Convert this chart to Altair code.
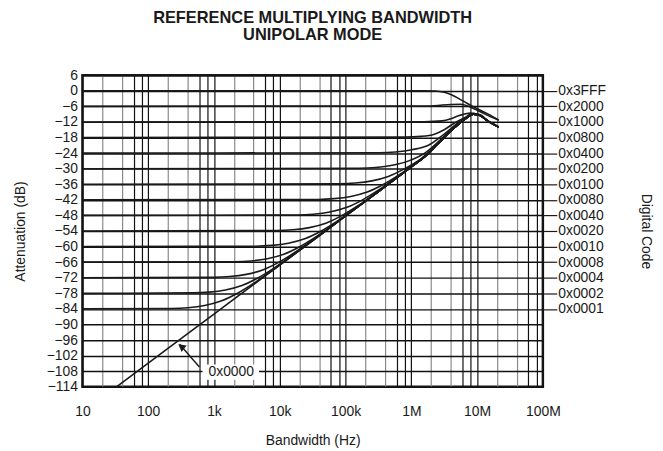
import altair as alt
import pandas as pd

FONT = "Liberation Sans"
INK = "#1a1a1a"

# ---- curve data: log10(frequency in Hz) and attenuation (dB) ----
codes = ["0x3FFF", "0x2000", "0x1000", "0x0800", "0x0400", "0x0200", "0x0100",
         "0x0080", "0x0040", "0x0020", "0x0010", "0x0008", "0x0004", "0x0002",
         "0x0001", "0x0000"]

# shared high-frequency tail that the lower codes merge into
tail_lf = [4.0, 4.5, 5.0, 5.5, 6.0, 6.2, 6.4, 6.6, 6.8, 6.94, 7.05, 7.15, 7.33]
tail_db = [-67.1, -57.7, -48.2, -38.8, -29.3, -25.5, -20.5, -15.5, -11.2, -9.0, -9.5, -11.4, -14.0]

lf_3FFF = [1, 6.2, 6.37, 6.5, 6.6, 6.77, 6.97, 7.17, 7.33]
db_3FFF = [0, 0, -0.1, -0.6, -1.4, -3.7, -6.5, -9.0, -11.3]
lf_2000 = [1, 6.3, 6.47, 6.6, 6.75, 6.92, 7.12, 7.33]
db_2000 = [-6, -5.85, -5.5, -5.3, -5.2, -6.5, -9.0, -11.4]
lf_1000 = [1, 6.2, 6.47, 6.6, 6.72, 6.9, 7.02, 7.17, 7.33]
db_1000 = [-12, -11.9, -11.6, -10.8, -9.6, -8.6, -9.2, -11.6, -13.9]
lf_0800 = [1, 5.9, 6.15, 6.35, 6.5, 6.65, 6.8, 6.94, 7.05, 7.15, 7.33]
db_0800 = [-18, -17.85, -17.55, -16.7, -15.0, -12.5, -10.5, -8.8, -9.2, -11.3, -14.0]
lf_0400 = [1, 5.51, 5.76, 6.01, 6.26, 6.51, 6.76]
db_0400 = [-24, -23.85, -23.55, -22.7, -21.0, -16.5, -11.6]
lf_0200 = [1, 5.21, 5.46, 5.71, 5.96, 6.21, 6.46, 6.71]
db_0200 = [-30, -29.85, -29.55, -28.7, -27.0, -23.9, -18.5, -12.9]
lf_0100 = [1, 4.9, 5.15, 5.4, 5.65, 5.9, 6.15, 6.4]
db_0100 = [-36, -35.85, -35.55, -34.7, -33.0, -30.0, -26.1, -20.4]
lf_0080 = [1, 4.58, 4.83, 5.08, 5.33, 5.58, 5.83, 6.08]
db_0080 = [-42, -41.85, -41.55, -40.7, -39.0, -36.0, -32.1, -27.7]
lf_0040 = [1, 4.26, 4.51, 4.76, 5.01, 5.26, 5.51, 5.76]
db_0040 = [-48, -47.85, -47.55, -46.7, -45.0, -42.0, -38.1, -33.7]
lf_0020 = [1, 3.95, 4.2, 4.45, 4.7, 4.95, 5.2, 5.45]
db_0020 = [-54, -53.85, -53.55, -52.7, -51.0, -48.0, -44.1, -39.7]
lf_0010 = [1, 3.63, 3.88, 4.13, 4.38, 4.63, 4.88, 5.13]
db_0010 = [-60, -59.85, -59.55, -58.7, -57.0, -54.0, -50.1, -45.7]
lf_0008 = [1, 3.31, 3.56, 3.81, 4.06, 4.31, 4.56, 4.81]
db_0008 = [-66, -65.85, -65.55, -64.7, -63.0, -60.0, -56.1, -51.7]
lf_0004 = [1, 2.99, 3.24, 3.49, 3.74, 3.99, 4.24, 4.49]
db_0004 = [-72, -71.85, -71.55, -70.7, -69.0, -66.0, -62.1, -57.7]
lf_0002 = [1, 2.675, 2.925, 3.175, 3.425, 3.675, 3.925, 4.175]
db_0002 = [-78, -77.85, -77.55, -76.7, -75.0, -72.0, -68.1, -63.7]
lf_0001 = [1, 2.357, 2.607, 2.857, 3.107, 3.357, 3.607, 3.857]
db_0001 = [-84, -83.85, -83.55, -82.7, -81.0, -78.0, -74.1, -69.7]
lf_0000 = [1.483, 2.0, 3.0]
db_0000 = [-114.7, -104.9, -86.0]

curve_points = {
    "0x3FFF": (lf_3FFF, db_3FFF, False), "0x2000": (lf_2000, db_2000, False),
    "0x1000": (lf_1000, db_1000, False), "0x0800": (lf_0800, db_0800, False),
    "0x0400": (lf_0400, db_0400, True), "0x0200": (lf_0200, db_0200, True),
    "0x0100": (lf_0100, db_0100, True), "0x0080": (lf_0080, db_0080, True),
    "0x0040": (lf_0040, db_0040, True), "0x0020": (lf_0020, db_0020, True),
    "0x0010": (lf_0010, db_0010, True), "0x0008": (lf_0008, db_0008, True),
    "0x0004": (lf_0004, db_0004, True), "0x0002": (lf_0002, db_0002, True),
    "0x0001": (lf_0001, db_0001, True), "0x0000": (lf_0000, db_0000, True),
}

rows = []
for code in codes:
    lfs, dbs, use_tail = curve_points[code]
    pts = list(zip(lfs, dbs))
    if use_tail:
        pts += [(a, b) for a, b in zip(tail_lf, tail_db) if a > lfs[-1] + 0.02]
    for i, (a, b) in enumerate(pts):
        rows.append({"code": code, "order": i, "freq": 10 ** a, "db": b})
df = pd.DataFrame(rows)

# ---- "0x0000" callout (positions in data units) ----
note_text = ["0x0000"]
note_freq = [1830]
note_db = [-108.3]
box_f1, box_f2 = [668], [4840]
box_db1, box_db2 = [-105.4], [-111.3]
arrow_freq = [600, 300]
arrow_db = [-106.4, -97.6]

# ---- axes ----
decade_vals = [10, 100, 1e3, 1e4, 1e5, 1e6, 1e7, 1e8]
decade_labels = ["10", "100", "1k", "10k", "100k", "1M", "10M", "100M"]
minor_mult = [2, 4, 6, 8]
x_grid = sorted(decade_vals + [m * d for d in decade_vals[:-1] for m in minor_mult])

y_left_vals = list(range(-114, 7, 6))
right_vals = [0, -6, -12, -18, -24, -30, -36, -42, -48, -54, -60, -66, -72, -78, -84]
right_labels = ["0x3FFF", "0x2000", "0x1000", "0x0800", "0x0400", "0x0200", "0x0100",
                "0x0080", "0x0040", "0x0020", "0x0010", "0x0008", "0x0004", "0x0002", "0x0001"]

def lookup_expr(vals, labels, default="''"):
    expr = default
    for v, l in zip(reversed(vals), reversed(labels)):
        expr = f"(abs(datum.value - {v}) < {abs(v) * 1e-6 + 1e-9} ? '{l}' : {expr})"
    return expr

x_label_expr = lookup_expr(decade_vals, decade_labels)
right_label_expr = lookup_expr(right_vals, right_labels)

x_scale = alt.Scale(type="log", domain=[10, 1e8])
y_scale = alt.Scale(domain=[-114, 6], nice=False, zero=False)

grid_color = {
    "condition": {
        "test": "indexof([2,4], round(datum.value / pow(10, floor(log(datum.value) / LN10 + 1e-9)))) >= 0",
        "value": "#8a8a8a"},
    "value": "#111111"}

x_axis = alt.Axis(values=x_grid, labelExpr=x_label_expr, tickSize=0, grid=True,
                  gridColor=grid_color, gridWidth=1.2, gridOpacity=1, domain=False,
                  title="Bandwidth (Hz)", labelPadding=18, titlePadding=15,
                  labelFontSize=14, titleFontSize=14, labelFont=FONT, titleFont=FONT,
                  labelColor=INK, titleColor=INK, titleFontWeight="normal",
                  labelOverlap=False, labelFlush=False)
y_axis = alt.Axis(values=y_left_vals,
                  labelExpr="datum.value < 0 ? '\u2212' + abs(datum.value) : '' + datum.value",
                  tickSize=0, grid=True, gridColor="#111111", gridWidth=1.5, gridOpacity=1,
                  domain=False, title="Attenuation (dB)", labelPadding=5, titlePadding=19,
                  labelFontSize=14, titleFontSize=14, labelFont=FONT, titleFont=FONT,
                  labelColor=INK, titleColor=INK, titleFontWeight="normal",
                  labelOverlap=False, labelFlush=False)
y_right_axis = alt.Axis(orient="right", values=right_vals, labelExpr=right_label_expr,
                        tickSize=14, tickColor=INK, tickWidth=1.2, grid=False, domain=False,
                        title="Digital Code", labelPadding=1, titlePadding=33,
                        labelFontSize=14, titleFontSize=14, labelFont=FONT, titleFont=FONT,
                        labelColor=INK, titleColor=INK, titleFontWeight="normal",
                        labelOverlap=False, labelFlush=False)

note_df = pd.DataFrame({"freq": note_freq, "db": note_db, "t": note_text})
box_df = pd.DataFrame({"freq": box_f1, "freq2": box_f2, "db": box_db1, "db2": box_db2})
arrow_df = pd.DataFrame({"freq": arrow_freq, "db": arrow_db, "order": [0, 1]})
head_df = pd.DataFrame({"freq": [arrow_freq[1] * 1.06], "db": [arrow_db[1] - 0.9]})
right_df = pd.DataFrame({"freq": [1e3] * len(right_vals), "db": right_vals})

X = alt.X("freq:Q", scale=x_scale, axis=x_axis)
Y = alt.Y("db:Q", scale=y_scale, axis=y_axis)

lines = alt.Chart(df).mark_line(color=INK, strokeWidth=1.6, interpolate="monotone", clip=True).encode(
    x=X, y=Y, detail="code:N", order="order:Q")
box = alt.Chart(box_df).mark_rect(color="white").encode(x=X, x2="freq2:Q", y=Y, y2="db2:Q")
note = alt.Chart(note_df).mark_text(
    font=FONT, fontSize=14, color=INK, align="center", baseline="middle").encode(x=X, y=Y, text="t:N")
arrow_line = alt.Chart(arrow_df).mark_line(color=INK, strokeWidth=1.4).encode(x=X, y=Y, order="order:Q")
arrow_head = alt.Chart(head_df).mark_point(
    shape="triangle-up", filled=True, color=INK, size=70, angle=307, opacity=1).encode(x=X, y=Y)

inner = alt.layer(lines, box, note, arrow_line, arrow_head)

right_axis_layer = alt.Chart(right_df).mark_point(opacity=0).encode(
    x=X, y=alt.Y("db:Q", scale=y_scale, axis=y_right_axis))

chart = alt.layer(inner, right_axis_layer).resolve_axis(
    y="independent"
).resolve_scale(y="shared").properties(
    width=464, height=314,
    padding={"left": 5, "top": 0, "right": 2, "bottom": 2},
    view=alt.ViewBackground(stroke=INK, strokeWidth=2.5),
    title=alt.TitleParams(["REFERENCE MULTIPLYING BANDWIDTH", "UNIPOLAR MODE"],
                          font=FONT, fontSize=16.5, fontWeight="bold", color=INK,
                          anchor="middle", lineHeight=17.5, offset=22.5, dy=-2),
).configure_view(stroke=INK, strokeWidth=2.5).configure(background="white")

chart.save("out.html", embed_options={"renderer": "svg", "actions": False})
